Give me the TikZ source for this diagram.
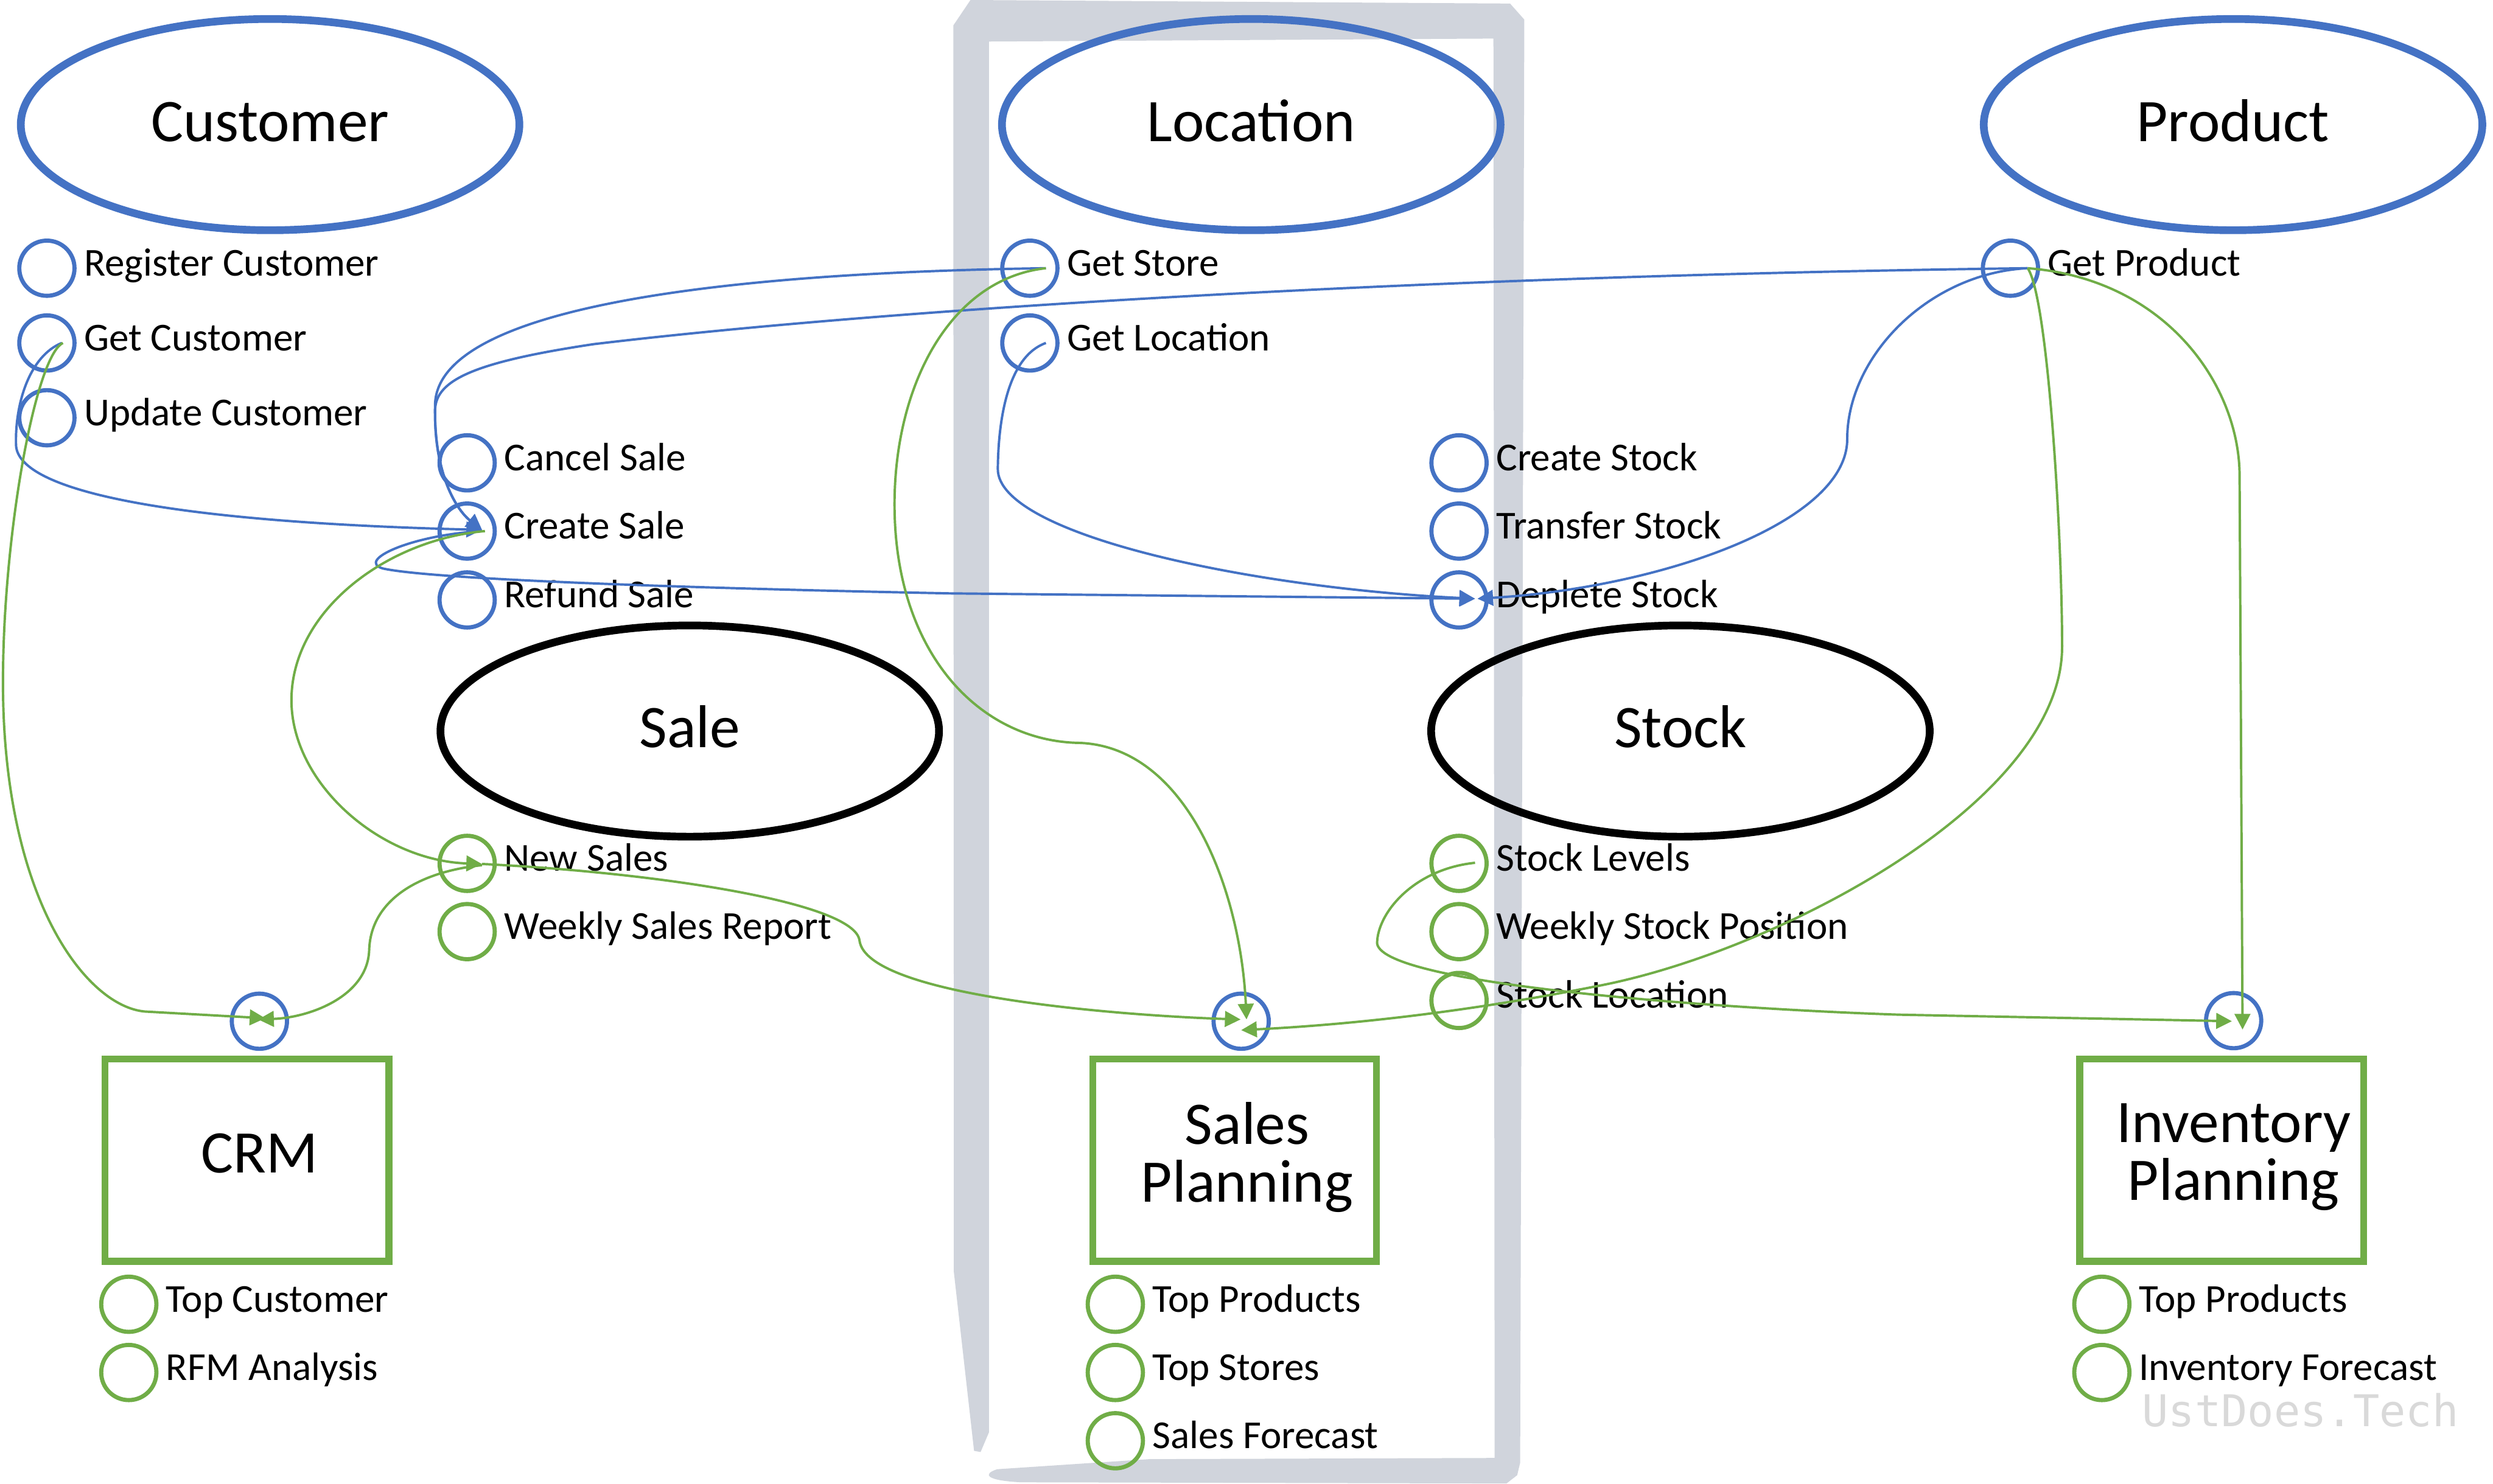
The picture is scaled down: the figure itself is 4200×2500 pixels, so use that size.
\documentclass[tikz,border=0pt]{standalone}
\usepackage{fontspec}
\setmainfont{Carlito}
\newfontfamily\wmfont{DejaVu Sans Mono}
\usetikzlibrary{arrows.meta,calc,shapes.geometric}
\definecolor{cblue}{RGB}{68,114,196}
\definecolor{cgreen}{RGB}{112,173,71}
\definecolor{lanegray}{RGB}{208,212,220}
\definecolor{wmgray}{RGB}{217,217,217}
\begin{document}
\begin{tikzpicture}[x=0.1mm,y=-0.1mm,
  >={Triangle[length=7.5pt,width=7.5pt]},
  entity/.style={ellipse, draw, line width=3.7pt, minimum width=84mm, minimum height=35.6mm, inner sep=0pt,
     font=\fontsize{29}{28}\selectfont, text height=20pt, text depth=4pt},
  bigtext/.style={font=\fontsize{29}{27.6}\selectfont, inner sep=0pt, align=center},
  appbox/.style={rectangle, draw=cgreen, line width=3.4pt, minimum width=47.8mm, minimum height=34.1mm, inner sep=0pt},
  port/.style={circle, draw, line width=2pt, minimum size=9.3mm, inner sep=0pt},
  bport/.style={port, draw=cblue},
  gport/.style={port, draw=cgreen},
  lbl/.style={font=\fontsize{19}{22}\selectfont, inner sep=0pt, anchor=base west},
  conn/.style={line width=1.15pt, ->},
  bl/.style={conn, draw=cblue, -{Triangle[length=7.5pt,width=7.5pt]}, cblue},
  gr/.style={conn, draw=cgreen, cgreen},
]
\useasboundingbox (0,0) rectangle (4200,2500);
\fill[white] (0,0) rectangle (4200,2500);

% swimlane frame
\fill[lanegray] (1606,43) -- (1635,0) -- (2544,6) -- (2568,33) -- (2561,2465) -- (2556,2486) -- (2538,2500)
  -- (1720,2498) .. controls (1660,2495) and (1655,2484) .. (1680,2476) -- (1936,2459) -- (2518,2457)
  -- (2516,65) -- (1666,70) -- (1666,2414) -- (1652,2447) -- (1641,2445) -- (1607,2144) -- cycle;

% entities
\node[entity, draw=cblue] (customer) at (455,210) {Customer};
\node[entity, draw=cblue] (location) at (2108,210) {Location};
\node[entity, draw=cblue] (product) at (3762,210) {Product};
\node[entity, draw=black] (sale) at (1162,1232) {Sale};
\node[entity, draw=black] (stock) at (2831,1232) {Stock};

% application boxes
\node[appbox] (crm) at (416,1955) {};
\node[appbox] (sp) at (2080,1955) {};
\node[appbox] (inv) at (3743,1955) {};
\node[bigtext, anchor=base] (crm-t) at (437,1976) {CRM};
\node[bigtext] (sp-t) at (2101,1950) {Sales\\Planning};
\node[bigtext] (inv-t) at (3763,1950) {Inventory\\Planning};

% ports: Customer
\node[bport] (reg) at (79,452) {};
\node[bport] (getc) at (79,578) {};
\node[bport] (upd) at (79,704) {};
\node[lbl] (reg-t) at ($(reg)+(62,13)$) {Register Customer};
\node[lbl] (getc-t) at ($(getc)+(62,13)$) {Get Customer};
\node[lbl] (upd-t) at ($(upd)+(62,13)$) {Update Customer};
% Location
\node[bport] (gstore) at (1735,452) {};
\node[bport] (gloc) at (1735,578) {};
\node[lbl] (gstore-t) at ($(gstore)+(62,13)$) {Get Store};
\node[lbl] (gloc-t) at ($(gloc)+(62,13)$) {Get Location};
% Product
\node[bport] (gprod) at (3387,452) {};
\node[lbl] (gprod-t) at ($(gprod)+(62,13)$) {Get Product};
% Sale
\node[bport] (cancel) at (787,780) {};
\node[bport] (create) at (787,895) {};
\node[bport] (refund) at (787,1011) {};
\node[lbl] (cancel-t) at ($(cancel)+(62,13)$) {Cancel Sale};
\node[lbl] (create-t) at ($(create)+(62,13)$) {Create Sale};
\node[lbl] (refund-t) at ($(refund)+(62,13)$) {Refund Sale};
\node[gport] (newsales) at (787,1455) {};
\node[gport] (weekly) at (787,1570) {};
\node[lbl] (newsales-t) at ($(newsales)+(62,13)$) {New Sales};
\node[lbl] (weekly-t) at ($(weekly)+(62,13)$) {Weekly Sales Report};
% Stock
\node[bport] (cstock) at (2458,780) {};
\node[bport] (tstock) at (2458,895) {};
\node[bport] (dstock) at (2458,1011) {};
\node[lbl] (cstock-t) at ($(cstock)+(62,13)$) {Create Stock};
\node[lbl] (tstock-t) at ($(tstock)+(62,13)$) {Transfer Stock};
\node[lbl] (dstock-t) at ($(dstock)+(62,13)$) {Deplete Stock};
\node[gport] (slevels) at (2458,1455) {};
\node[gport] (wstock) at (2458,1570) {};
\node[gport] (sloc) at (2458,1686) {};
\node[lbl] (slevels-t) at ($(slevels)+(62,13)$) {Stock Levels};
\node[lbl] (wstock-t) at ($(wstock)+(62,13)$) {Weekly Stock Position};
\node[lbl] (sloc-t) at ($(sloc)+(62,13)$) {Stock Location};
% box input ports
\node[bport] (crmc) at (437,1721) {};
\node[bport] (spc) at (2091,1721) {};
\node[bport] (invc) at (3763,1720) {};
% box outputs
\node[gport] (topcust) at (217,2198) {};
\node[gport] (rfm) at (217,2313) {};
\node[lbl] (topcust-t) at ($(topcust)+(62,13)$) {Top Customer};
\node[lbl] (rfm-t) at ($(rfm)+(62,13)$) {RFM Analysis};
\node[gport] (tprod) at (1879,2198) {};
\node[gport] (tstores) at (1879,2313) {};
\node[gport] (sfc) at (1879,2428) {};
\node[lbl] (tprod-t) at ($(tprod)+(62,13)$) {Top Products};
\node[lbl] (tstores-t) at ($(tstores)+(62,13)$) {Top Stores};
\node[lbl] (sfc-t) at ($(sfc)+(62,13)$) {Sales Forecast};
\node[gport] (itprod) at (3541,2198) {};
\node[gport] (ifc) at (3541,2313) {};
\node[lbl] (itprod-t) at ($(itprod)+(62,13)$) {Top Products};
\node[lbl] (ifc-t) at ($(ifc)+(62,13)$) {Inventory Forecast};

% watermark
\node[inner sep=0pt, anchor=base west, text=wmgray, font=\wmfont\fontsize{21}{24}\selectfont] (wm) at (3608,2404) {UstDoes.Tech};

% blue connectors
\draw[bl] ($(gstore)+(27,0)$) .. controls (1200,460) and (740,520) .. (733,680)
   .. controls (730,800) and (770,860) .. ($(create)+(25,-2)$);
\draw[bl] ($(gprod)+(29,0)$) .. controls (2400,465) and (1500,520) .. (1000,580)
   .. controls (800,610) and (735,640) .. (733,690)
   .. controls (731,800) and (770,860) .. ($(create)+(25,-2)$);
\draw[bl] ($(getc)+(25,0)$) .. controls (50,600) and (25,680) .. (27,750)
   .. controls (30,830) and (300,880) .. ($(create)+(25,-2)$);
\draw[bl] ($(create)+(25,0)$) .. controls (690,902) and (600,945) .. (645,958)
   .. controls (720,975) and (1100,990) .. (1600,1000) -- ($(dstock)+(27,-2)$);
\draw[bl] ($(gloc)+(27,0)$) .. controls (1700,600) and (1682,700) .. (1681,790)
   .. controls (1680,900) and (2100,990) .. ($(dstock)+(27,-2)$);
\draw[bl] ($(gprod)+(29,0)$) .. controls (3250,460) and (3112,600) .. (3112,740)
   .. controls (3112,880) and (2800,990) .. ($(dstock)+(31,-2)$);

% green connectors
\draw[gr] ($(getc)+(27,0)$) .. controls (60,600) and (5,900) .. (5,1150)
   .. controls (5,1520) and (150,1703) .. (250,1705) -- ($(crmc)+(10,-5)$);
\draw[gr] ($(create)+(30,0)$) .. controls (650,910) and (491,1030) .. (491,1180)
   .. controls (491,1320) and (640,1450) .. ($(newsales)+(25,1)$);
\draw[gr] ($(newsales)+(25,3)$) .. controls (700,1470) and (625,1520) .. (622,1600)
   .. controls (620,1680) and (520,1715) .. ($(crmc)+(-2,-3)$);
\draw[gr] ($(newsales)+(25,1)$) .. controls (1100,1470) and (1440,1520) .. (1448,1585)
   .. controls (1460,1680) and (1900,1712) .. ($(spc)+(-1,-3)$);
\draw[gr] ($(gstore)+(27,0)$) .. controls (1600,470) and (1507,650) .. (1507,850)
   .. controls (1507,1100) and (1650,1250) .. (1820,1252)
   .. controls (2000,1260) and (2090,1500) .. ($(spc)+(9,-3)$);
\draw[gr] ($(slevels)+(27,-1)$) .. controls (2380,1465) and (2320,1540) .. (2320,1590)
   .. controls (2330,1660) and (2900,1700) .. (3200,1710) -- ($(invc)+(-3,1)$);
\draw[gr] ($(gprod)+(29,0)$) .. controls (3450,500) and (3474,900) .. (3474,1090)
   .. controls (3474,1350) and (3000,1600) .. (2700,1660)
   .. controls (2450,1710) and (2250,1728) .. ($(spc)+(0,15)$);
\draw[gr] ($(gprod)+(29,0)$) .. controls (3650,470) and (3772,650) .. (3773,800)
   -- ($(invc)+(15,15)$);
\end{tikzpicture}
\end{document}
